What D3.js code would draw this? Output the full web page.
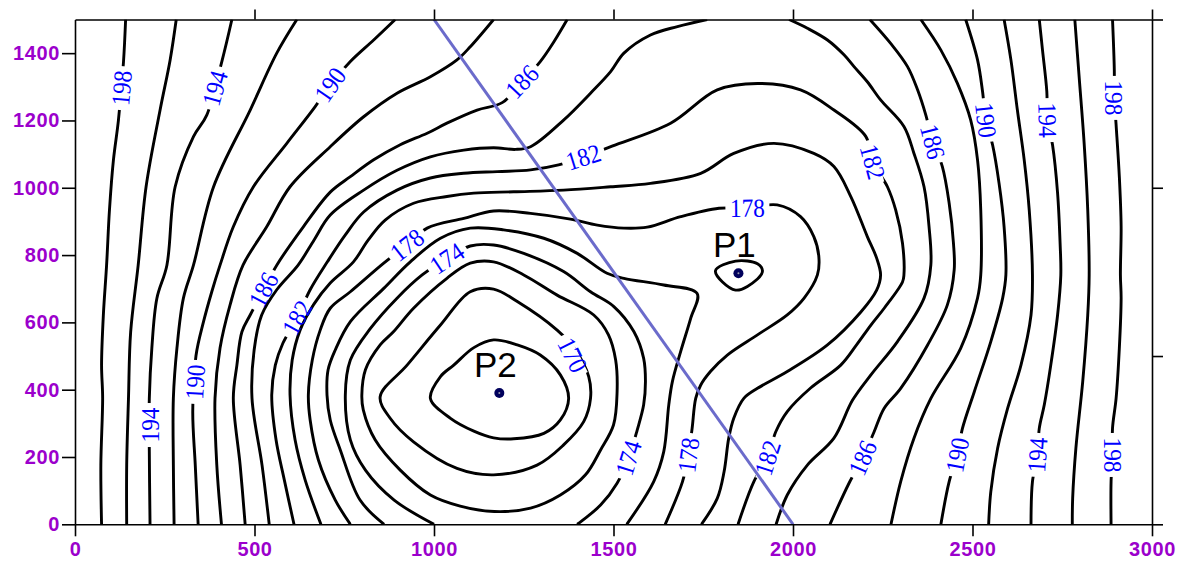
<!DOCTYPE html>
<html>
<head>
<meta charset="utf-8">
<script src="https://cdn.jsdelivr.net/npm/d3@7"></script>
<style>
  body { margin: 0; background: #fff; }
  svg { display: block; }
  .axis path, .axis line { stroke: #000; stroke-width: 1.6; }
  .axis text { font-family: "Liberation Sans", Arial, sans-serif; font-weight: bold; font-size: 20px; letter-spacing: 0.6px; fill: #9b00cc; }
</style>
</head>
<body>
<div id="vis"></div>
<script>
// axis ticks
const xTicks = [0, 500, 1000, 1500, 2000, 2500, 3000];
const yTicks = [0, 200, 400, 600, 800, 1000, 1200, 1400];
const topTicks = [500, 1000, 1500, 2000, 2500, 3000];
const rightTicks = [0, 500, 1000, 1500];

// contour lines, [x, y] in map units
const c198L = [[74,0],[72,176],[77,375],[74,473],[79,622],[88,770],[96,934],[107,1082],[121,1201],[135,1373],[141,1500]];
const c196L = [[144,0],[144,176],[149,375],[155,571],[176,770],[198,1003],[237,1231],[265,1380],[282,1500]];
const c194L = [[209,0],[207,216],[207,374],[214,523],[228,671],[256,770],[279,1003],[330,1152],[367,1216],[409,1375],[437,1500]];
const c192L = [[276,0],[274,176],[274,375],[284,524],[302,672],[330,770],[386,1003],[488,1231],[562,1400],[618,1500]];
const c190L = [[343,0],[335,176],[328,335],[337,501],[358,602],[381,691],[404,770],[441,884],[497,1003],[590,1132],[669,1241],[711,1306],[767,1375],[832,1439],[892,1500]];
const c188L = [[408,0],[395,176],[390,375],[404,524],[432,652],[468,770],[534,884],[599,1003],[711,1122],[804,1211],[897,1281],[990,1330],[1064,1380],[1101,1419],[1166,1500]];
const c186L = [[474,0],[460,176],[441,375],[451,473],[465,572],[488,622],[525,697],[562,770],[636,884],[711,987],[767,1033],[832,1083],[906,1128],[981,1162],[1036,1192],[1120,1231],[1190,1253],[1245,1315],[1296,1375],[1334,1434],[1371,1500]];
const c184L = [[541,0],[521,176],[493,375],[499,518],[520,622],[562,697],[622,771],[666,845],[711,919],[804,993],[897,1052],[990,1092],[1083,1112],[1166,1119],[1227,1114],[1269,1122],[1361,1201],[1436,1281],[1492,1345],[1529,1400],[1603,1454],[1678,1479],[1761,1500]];
const c184R = [[1989,1500],[2040,1474],[2096,1439],[2142,1395],[2170,1360],[2207,1315],[2244,1261],[2309,1182],[2337,1102],[2365,1003],[2379,884],[2384,771],[2365,672],[2291,543],[2217,444],[2166,369],[2114,256],[2040,176],[1984,87],[1953,0]];
const c182 = [[610,0],[583,132],[560,251],[548,384],[558,473],[579,538],[619,614],[655,697],[703,780],[753,860],[804,928],[897,993],[990,1029],[1083,1043],[1176,1048],[1269,1053],[1347,1068],[1416,1091],[1496,1124],[1659,1192],[1789,1291],[1901,1310],[2021,1291],[2114,1231],[2203,1152],[2222,1077],[2263,1003],[2286,934],[2305,835],[2309,741],[2305,720],[2254,642],[2217,592],[2177,533],[2133,473],[2049,405],[1984,335],[1952,275],[1929,197],[1891,127],[1847,0]];
const c180 = [[685,0],[641,132],[613,251],[599,384],[605,488],[627,577],[664,652],[711,717],[775,779],[817,845],[864,904],[943,954],[1036,974],[1111,984],[1222,988],[1361,993],[1492,1003],[1603,1013],[1743,1043],[1835,1102],[1947,1132],[2058,1102],[2114,1063],[2161,974],[2207,855],[2233,791],[2244,741],[2233,696],[2189,631],[2096,533],[1984,454],[1901,404],[1863,374],[1835,315],[1821,256],[1808,156],[1789,77],[1745,0]];
const c178 = [[767,0],[725,72],[678,191],[655,310],[650,384],[661,488],[683,577],[711,642],[767,691],[860,776],[925,830],[981,880],[1083,909],[1166,931],[1269,924],[1380,907],[1455,889],[1529,880],[1594,883],[1687,914],[1794,939],[1873,940],[1956,949],[2021,914],[2058,855],[2072,795],[2068,741],[2031,672],[1984,622],[1901,563],[1817,503],[1770,454],[1743,414],[1729,374],[1719,285],[1709,206],[1692,126],[1644,0]];
const c176 = [[861,0],[794,72],[739,221],[711,310],[702,384],[705,459],[725,518],[767,602],[860,701],[934,780],[1018,850],[1101,880],[1194,875],[1306,850],[1399,805],[1482,746],[1529,731],[1640,711],[1733,686],[1715,612],[1687,513],[1664,424],[1654,355],[1640,216],[1612,127],[1537,0]];
const c176P1 = [[1784,753],[1840,782],[1901,774],[1915,753],[1901,729],[1840,696]];
const c174 = [[1000,0],[889,72],[809,161],[767,251],[753,384],[767,488],[823,582],[897,672],[967,741],[1036,790],[1101,827],[1166,830],[1250,805],[1361,751],[1436,691],[1501,647],[1557,572],[1584,493],[1589,424],[1584,355],[1566,280],[1542,197],[1510,122],[1464,57],[1399,0]];
const c172 = [[1101,776],[1166,780],[1250,741],[1343,681],[1445,622],[1486,563],[1506,488],[1510,393],[1500,295],[1464,221],[1422,147],[1352,87],[1269,48],[1168,38],[1073,54],[990,87],[906,161],[836,251],[803,340],[799,384],[809,459],[850,533],[887,572],[943,642],[1036,731]];
const c170 = [[850,379],[925,473],[1018,592],[1101,691],[1166,699],[1232,662],[1343,577],[1394,518],[1431,439],[1436,374],[1417,305],[1361,236],[1287,176],[1166,147],[1064,166],[943,245],[878,315]];
const c168 = [[990,374],[1018,439],[1055,473],[1111,525],[1166,548],[1232,533],[1296,503],[1352,444],[1375,374],[1352,310],[1306,270],[1222,254],[1166,257],[1111,277],[1046,315]];
const c186R = [[2214,1500],[2272,1429],[2319,1360],[2347,1291],[2370,1216],[2389,1137],[2416,1063],[2435,954],[2447,835],[2449,756],[2430,652],[2375,533],[2300,404],[2254,345],[2226,275],[2194,197],[2156,122],[2103,0]];
const c188R = [[2356,1500],[2412,1409],[2458,1310],[2495,1201],[2514,1083],[2523,934],[2523,741],[2514,672],[2467,523],[2384,374],[2337,256],[2300,127],[2273,0]];
const c190R = [[2481,1500],[2514,1380],[2528,1286],[2537,1201],[2556,1127],[2574,1013],[2588,884],[2593,741],[2584,672],[2551,543],[2505,394],[2472,285],[2458,206],[2435,127],[2412,0]];
const c192R = [[2588,1500],[2607,1380],[2625,1231],[2644,1083],[2658,934],[2667,741],[2663,622],[2635,473],[2598,345],[2570,226],[2551,97],[2545,0]];
const c194R = [[2686,1500],[2695,1409],[2707,1286],[2709,1201],[2723,1127],[2737,984],[2744,835],[2746,741],[2737,622],[2718,473],[2700,355],[2686,285],[2681,206],[2667,127],[2663,0]];
const c196R = [[2785,1500],[2797,1330],[2811,1132],[2821,934],[2825,741],[2821,622],[2807,424],[2788,226],[2779,77],[2778,0]];
const c198R = [[2890,1500],[2895,1350],[2895,1267],[2900,1187],[2909,1033],[2914,884],[2912,741],[2914,672],[2909,523],[2900,374],[2890,285],[2890,206],[2886,127],[2886,0]];

// [level, points, closed]
const contours = [
  [198, c198L, false], [196, c196L, false], [194, c194L, false], [192, c192L, false],
  [190, c190L, false], [188, c188L, false], [186, c186L, false], [184, c184L, false],
  [184, c184R, false], [182, c182, false], [180, c180, false], [178, c178, false],
  [176, c176, false], [176, c176P1, true], [174, c174, false], [172, c172, true],
  [170, c170, true], [168, c168, true], [186, c186R, false], [188, c188R, false],
  [190, c190R, false], [192, c192R, false], [194, c194R, false], [196, c196R, false],
  [198, c198R, false]
];

// contour labels: [level, x, y]
const labelPos = [
  [198, 130, 1296], [198, 2895, 1267], [198, 2890, 206],
  [194, 209, 295], [194, 390, 1296], [194, 2709, 1201], [194, 2681, 206],
  [190, 335, 423], [190, 711, 1306], [190, 2537, 1201], [190, 2458, 206],
  [186, 525, 697], [186, 1245, 1315], [186, 2389, 1137], [186, 2194, 197],
  [182, 619, 614], [182, 1416, 1091], [182, 2222, 1077], [182, 1929, 197],
  [178, 925, 830], [178, 1873, 940], [178, 1709, 206],
  [174, 1036, 790], [174, 1542, 197],
  [170, 1386, 503]
];

// profile line and wells
const profile = [[1000, 1500], [2000, 0]];
const wells = [['P1', 1848, 746], ['P2', 1182, 390]];

const width = 1188, height = 564;
const x = d3.scaleLinear().domain([0, 3000]).range([75, 1152]);
const y = d3.scaleLinear().domain([0, 1500]).range([524.3, 19.5]);

const svg = d3.select('#vis').append('svg')
  .attr('width', width)
  .attr('height', height);

svg.append('clipPath').attr('id', 'plot')
  .append('rect')
    .attr('x', x(0)).attr('y', y(1500))
    .attr('width', x(3000) - x(0)).attr('height', y(0) - y(1500));

const plot = svg.append('g').attr('clip-path', 'url(#plot)');

const open = d3.line().x(d => x(d[0])).y(d => y(d[1])).curve(d3.curveCatmullRom.alpha(0.5));
const closed = d3.line().x(d => x(d[0])).y(d => y(d[1])).curve(d3.curveCatmullRomClosed.alpha(0.5));

plot.selectAll('path.contour')
  .data(contours)
  .join('path')
    .attr('class', 'contour')
    .attr('d', d => (d[2] ? closed : open)(d[1]))
    .attr('fill', 'none')
    .attr('stroke', '#000')
    .attr('stroke-width', 2.9)
    .attr('stroke-linejoin', 'round');

// angle of the contour at a label: nearest segment, kept readable
function labelAngle(lv, px, py) {
  let best = Infinity, ang = 0;
  contours.filter(c => c[0] === lv).forEach(c => {
    const pts = c[1].map(p => [x(p[0]), y(p[1])]);
    for (let i = 0; i < pts.length - 1; i++) {
      const [x1, y1] = pts[i], [x2, y2] = pts[i + 1];
      const dx = x2 - x1, dy = y2 - y1;
      const t = Math.max(0, Math.min(1, ((px - x1) * dx + (py - y1) * dy) / (dx * dx + dy * dy)));
      const d = Math.hypot(x1 + t * dx - px, y1 + t * dy - py);
      if (d < best) { best = d; ang = Math.atan2(dy, dx) * 180 / Math.PI; }
    }
  });
  if (ang > 90) ang -= 180;
  if (ang < -90) ang += 180;
  return ang;
}

const labels = plot.selectAll('g.clabel')
  .data(labelPos)
  .join('g')
    .attr('class', 'clabel')
    .attr('transform', d => {
      const px = x(d[1]), py = y(d[2]);
      return 'translate(' + px + ',' + py + ') rotate(' + labelAngle(d[0], px, py) + ')';
    });

labels.append('rect')
  .attr('x', -22).attr('y', -6)
  .attr('width', 44).attr('height', 12)
  .attr('fill', '#fff');

labels.append('text')
  .attr('text-anchor', 'middle')
  .attr('dy', '0.34em')
  .attr('textLength', 35)
  .attr('lengthAdjust', 'spacingAndGlyphs')
  .style('font-family', '"Liberation Serif", "Times New Roman", serif')
  .style('font-size', '26px')
  .attr('fill', '#0000ff')
  .text(d => d[0]);

plot.append('line')
  .attr('x1', x(profile[0][0])).attr('y1', y(profile[0][1]))
  .attr('x2', x(profile[1][0])).attr('y2', y(profile[1][1]))
  .attr('stroke', '#6b6bcb')
  .attr('stroke-width', 3);

const w = svg.selectAll('g.well')
  .data(wells)
  .join('g')
    .attr('class', 'well')
    .attr('transform', d => 'translate(' + x(d[1]) + ',' + y(d[2]) + ')');

w.append('circle').attr('r', 5).attr('fill', '#00005c');
w.append('circle').attr('r', 1).attr('fill', '#9999aa');
w.append('text')
  .attr('x', -4).attr('y', -16)
  .attr('text-anchor', 'middle')
  .style('font-family', '"Liberation Sans", Arial, sans-serif')
  .style('font-size', '35px')
  .attr('fill', '#000')
  .text(d => d[0]);

// axes
const fmt = d3.format('d');

svg.append('g')
  .attr('class', 'axis')
  .attr('transform', 'translate(0,' + y(0) + ')')
  .call(d3.axisBottom(x).tickValues(xTicks).tickFormat(fmt).tickSize(12).tickSizeOuter(0).tickPadding(6));

svg.append('g')
  .attr('class', 'axis')
  .attr('transform', 'translate(' + x(0) + ',0)')
  .call(d3.axisLeft(y).tickValues(yTicks).tickFormat(fmt).tickSize(13).tickSizeOuter(0).tickPadding(2));

svg.append('g')
  .attr('class', 'axis')
  .attr('transform', 'translate(0,' + y(1500) + ')')
  .call(d3.axisTop(x).tickValues(topTicks).tickSize(10).tickSizeOuter(0).tickFormat(''));

svg.append('g')
  .attr('class', 'axis')
  .attr('transform', 'translate(' + x(3000) + ',0)')
  .call(d3.axisRight(y).tickValues(rightTicks).tickSize(11).tickSizeOuter(0).tickFormat(''));
</script>
</body>
</html>
